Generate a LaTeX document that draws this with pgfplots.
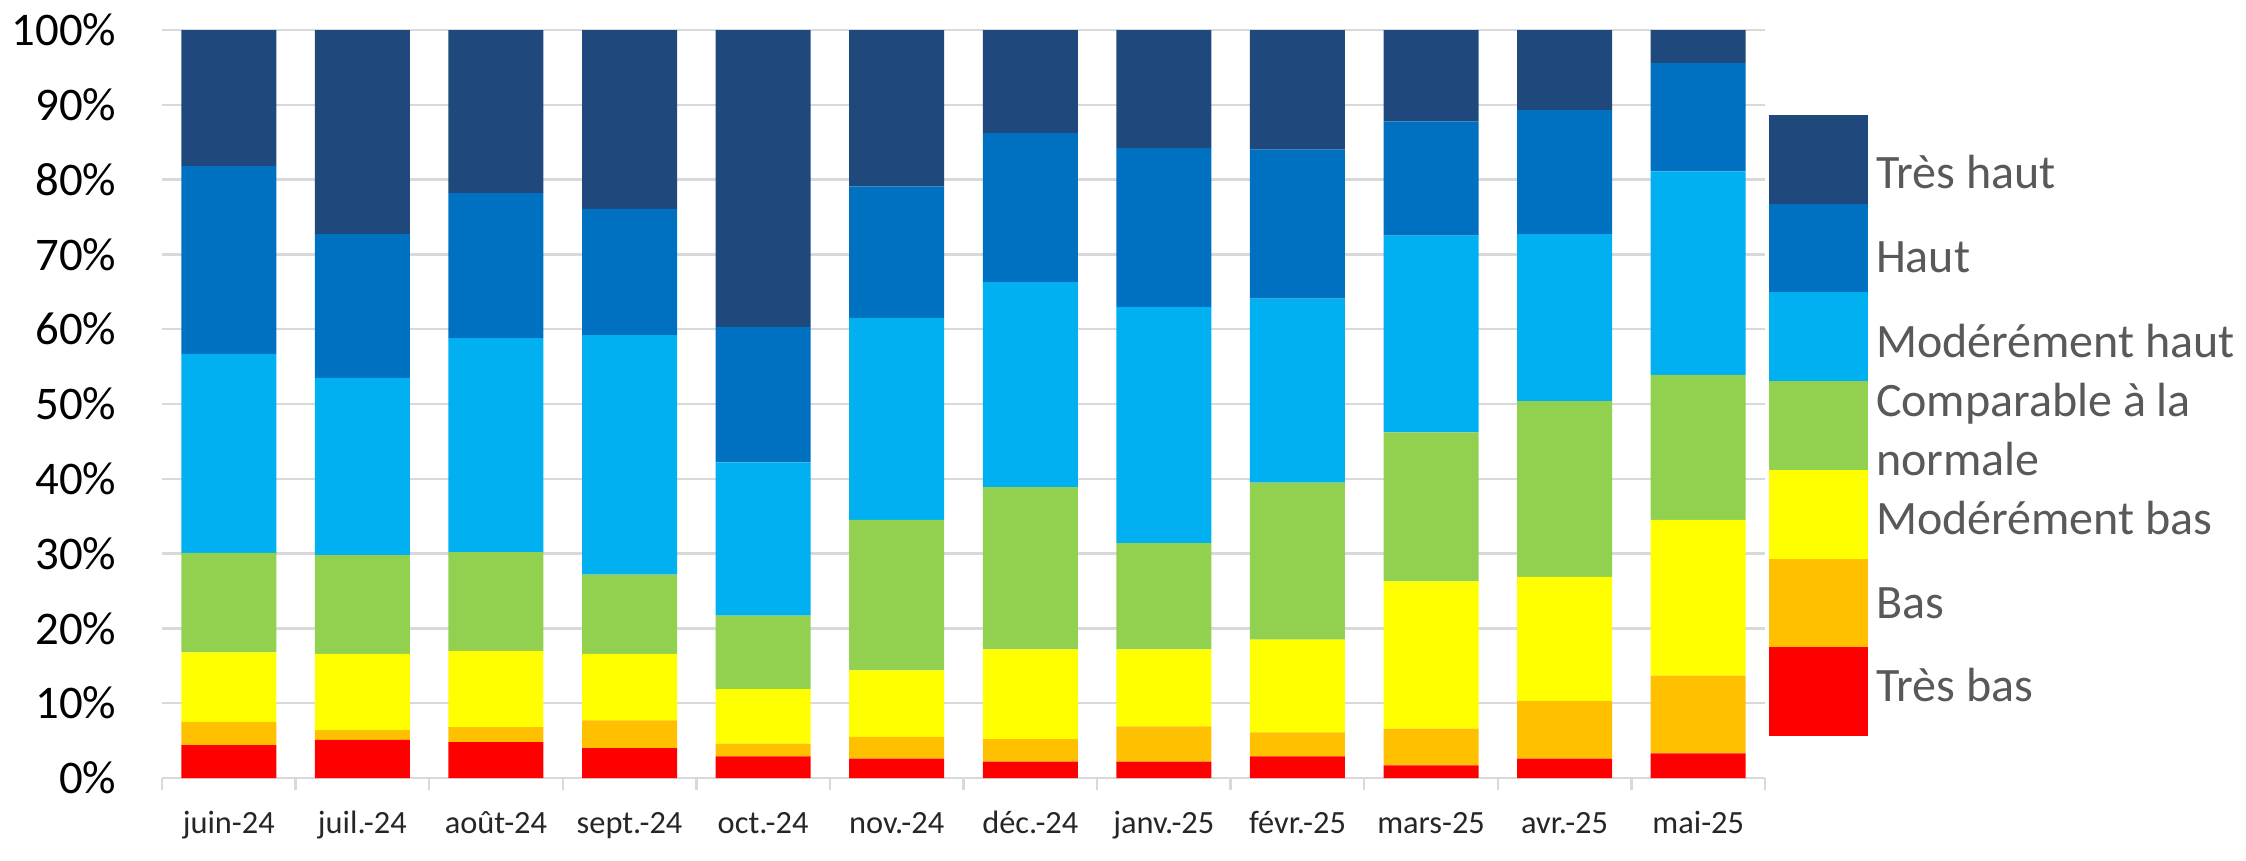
\documentclass[border=0pt]{standalone}
\usepackage{pgfplots}
\usepackage{pgfplotstable}
\pgfplotsset{compat=1.18}
\usepackage{fontspec}
\setmainfont{Carlito}

\definecolor{tbas}{HTML}{FF0000}
\definecolor{bas}{HTML}{FFC000}
\definecolor{mbas}{HTML}{FFFF00}
\definecolor{comp}{HTML}{92D050}
\definecolor{mhaut}{HTML}{00B0F0}
\definecolor{haut}{HTML}{0070C0}
\definecolor{thaut}{HTML}{1F497D}
\definecolor{gridc}{HTML}{D9D9D9}
\definecolor{legtext}{HTML}{595959}

% parts in %, bottom to top
\pgfplotstableread{
x  TB   B    MB   C    MH   H    TH
0  4.4  3.1  9.3  13.3 26.6 25.1 18.2
1  5.1  1.3  10.2 13.2 23.7 19.2 27.3
2  4.8  2.0  10.2 13.2 28.6 19.4 21.8
3  4.0  3.7  8.9  10.6 32.0 16.9 23.9
4  2.9  1.7  7.3  9.8  20.5 18.1 39.7
5  2.6  2.9  8.9  20.1 27.0 17.6 20.9
6  2.2  3.0  12.0 21.7 27.4 19.9 13.8
7  2.2  4.7  10.3 14.2 31.6 21.2 15.8
8  2.9  3.2  12.4 21.0 24.6 19.9 16.0
9  1.7  4.9  19.7 19.9 26.3 15.3 12.2
10 2.6  7.7  16.6 23.5 22.3 16.6 10.7
11 3.3  10.4 20.8 19.4 27.2 14.5 4.4
}\data

% legend text: zero-size box, shifted vertically
\newcommand{\legup}[2]{\smash{\raisebox{#1}{#2}}}

\begin{document}
\begin{tikzpicture}
\begin{axis}[
  scale only axis,
  width=400.75pt, height=187pt,
  ybar stacked,
  bar width=23.75pt,
  xmin=-0.5, xmax=11.5,
  ymin=0, ymax=100,
  axis line style={draw=none},
  ytick={0,10,...,100},
  yticklabels={0\%,10\%,20\%,30\%,40\%,50\%,60\%,70\%,80\%,90\%,100\%},
  ytick style={draw=none},
  yticklabel style={anchor=east, inner sep=0pt, xshift=-11.25pt,
    font=\fontsize{11.7}{14}\selectfont},
  ymajorgrids,
  grid style={gridc, line width=0.6pt},
  xtick={0,...,11},
  xticklabels={juin-24,juil.-24,août-24,sept.-24,oct.-24,nov.-24,déc.-24,janv.-25,févr.-25,mars-25,avr.-25,mai-25},
  xtick pos=bottom,
  tick align=outside,
  major tick length=0pt,
  minor xtick={-0.5,0.5,...,11.5},
  minor tick length=3pt,
  minor x tick style={gridc, line width=0.6pt},
  xticklabel style={anchor=base, inner sep=0pt, yshift=-13.75pt,
    text=black!85, font=\fontsize{8.1}{10}\selectfont},
  /pgf/number format/assume math mode=true,
  reverse legend,
  legend cell align=left,
  legend image code/.code={\fill[#1, draw=none] (0pt,-6.34pt) rectangle (24.75pt,15.84pt);},
  legend style={at={(1.0025,0.8864)}, anchor=north west, draw=none, fill=none,
    inner sep=0pt, outer sep=0pt, row sep=0pt, column sep=2pt,
    nodes={inner sep=0pt}, text=legtext, font=\fontsize{12}{14.75}\selectfont},
]
\addplot[fill=tbas, draw=none] table[x=x, y=TB] {\data};
\addplot[fill=bas, draw=none] table[x=x, y=B] {\data};
\addplot[fill=mbas, draw=none] table[x=x, y=MB] {\data};
\addplot[fill=comp, draw=none] table[x=x, y=C] {\data};
\addplot[fill=mhaut, draw=none] table[x=x, y=MH] {\data};
\addplot[fill=haut, draw=none] table[x=x, y=H] {\data};
\addplot[fill=thaut, draw=none] table[x=x, y=TH] {\data};
\legend{\legup{1.6pt}{Très bas}, \legup{0.2pt}{Bas},
  \legup{-1pt}{Modérément bas},
  {\legup{-0.1pt}{\parbox[c][0pt][c]{120pt}{Comparable à la\\normale}}},
  \legup{-1.3pt}{Modérément haut}, \legup{-2.1pt}{Haut},
  \legup{-3.2pt}{Très haut}}
\end{axis}
\pgfresetboundingbox
\path (-40.5pt,-20.5pt) rectangle (521pt,194.5pt);
\end{tikzpicture}
\end{document}
